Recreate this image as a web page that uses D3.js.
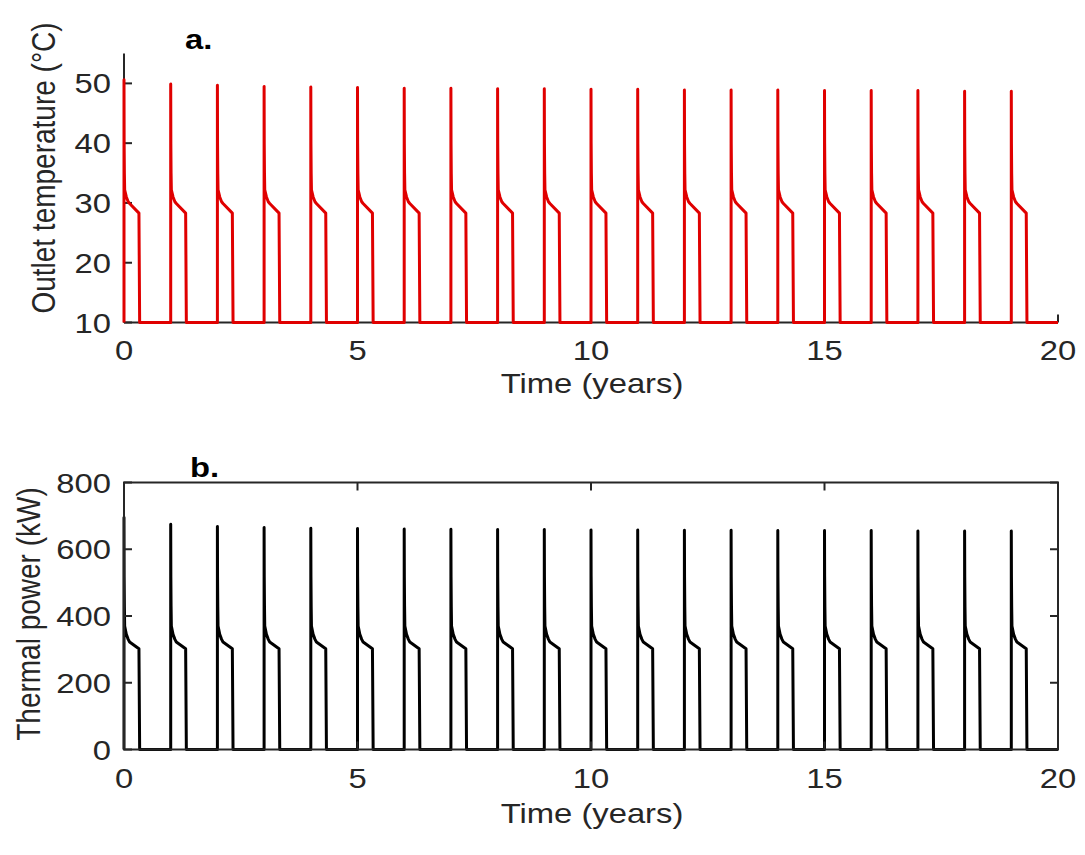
<!DOCTYPE html>
<html><head><meta charset="utf-8">
<script src="https://cdn.jsdelivr.net/npm/d3@7"></script>
<style>body{margin:0;background:#fff}svg{display:block}text{font-family:"Liberation Sans",Arial,sans-serif;fill:#262626}</style>
</head><body><svg id="c" width="1085" height="855"></svg>
<script>
// ---- data ----
const cycleStarts = [0,1,2,3,4,5,6,7,8,9,10,11,12,13,14,15,16,17,18,19]; // years
const peakTemp  = [50.6,49.9,49.7,49.5,49.4,49.3,49.2,49.2,49.1,49.1,49.0,49.0,48.9,48.9,48.9,48.8,48.8,48.8,48.7,48.7]; // °C
const peakPower = [695,675,668,665,663,662,661,660,659,659,658,658,657,657,656,656,656,655,655,655]; // kW
// shape of each heating season after its peak (offset in years, value)
const tailOffsets = [0.003,0.008,0.014,0.05,0.09,0.12,0.32,0.335];
const tailTemp    = [40,35,32.2,31.0,30.2,29.9,28.3,10];
const tailPower   = [520,430,370,345,330,322,302,0];
const baseTemp = 10, basePower = 0, endYear = 20;
const xTicks = [0,5,10,15,20];
const yTicksA = [10,20,30,40,50];
const yTicksB = [0,200,400,600,800];

function series(peaks, tail, base){
  const pts = [];
  cycleStarts.forEach((s,i)=>{
    pts.push([s,base]); pts.push([s,peaks[i]]);
    tailOffsets.forEach((o,j)=>pts.push([s+o, tail[j]]));
  });
  pts.push([endYear, base]);
  return pts;
}

const svg = d3.select("#c");
svg.append("rect").attr("width",1085).attr("height",855).attr("fill","#fff");
const X0 = 124, X1 = 1058;
const x = d3.scaleLinear().domain([0,20]).range([X0,X1]);
const axisCol = "#262626", tickLen = 8, fs = 28, SX = 1.17;

// horizontally stretched text (the reference lettering is wide)
function htext(g, tx, ty, str, size, anchor, bold){
  const t = g.append("text").attr("transform",`translate(${tx},${ty}) scale(${SX},1)`)
    .attr("text-anchor",anchor).attr("font-size",size).text(str);
  if(bold){ t.attr("font-weight","bold").style("fill","#000"); }
  return t;
}
function vtext(g, tx, ty, str, size){
  return g.append("text").attr("transform",`translate(${tx},${ty}) rotate(-90) scale(1,${SX})`)
    .attr("text-anchor","middle").attr("font-size",size).text(str);
}

// ---------- Panel a ----------
const ya = d3.scaleLinear().domain([10,55]).range([322.5,53.5]);
const ga = svg.append("g");
ga.append("line").attr("x1",X0).attr("x2",X0).attr("y1",ya(55)).attr("y2",ya(10)).attr("stroke",axisCol).attr("stroke-width",2);
ga.append("line").attr("x1",X0).attr("x2",X1).attr("y1",ya(10)).attr("y2",ya(10)).attr("stroke",axisCol).attr("stroke-width",2);
yTicksA.forEach(v=>{
  ga.append("line").attr("x1",X0).attr("x2",X0+tickLen).attr("y1",ya(v)).attr("y2",ya(v)).attr("stroke",axisCol).attr("stroke-width",2);
  htext(ga, 111, ya(v)+10, v, fs, "end");
});
xTicks.forEach(v=>{
  ga.append("line").attr("x1",x(v)).attr("x2",x(v)).attr("y1",ya(10)).attr("y2",ya(10)-tickLen).attr("stroke",axisCol).attr("stroke-width",2);
  htext(ga, x(v), 360, v, fs, "middle");
});
const lineA = d3.line().x(d=>x(d[0])).y(d=>ya(d[1]));
ga.append("path").datum(series(peakTemp,tailTemp,baseTemp)).attr("d",lineA)
  .attr("fill","none").attr("stroke","#e00000").attr("stroke-width",3).attr("stroke-linejoin","round");
htext(ga, 592, 393, "Time (years)", 28, "middle");
vtext(ga, 55, 168, "Outlet temperature (°C)", 28);
htext(ga, 185, 49, "a.", 28, "start", true);

// ---------- Panel b ----------
const yb = d3.scaleLinear().domain([0,800]).range([749.5,482.5]);
const gb = svg.append("g");
const lineB = d3.line().x(d=>x(d[0])).y(d=>yb(d[1]));
gb.append("path").datum(series(peakPower,tailPower,basePower)).attr("d",lineB)
  .attr("fill","none").attr("stroke","#000").attr("stroke-width",3).attr("stroke-linejoin","round");
gb.append("rect").attr("x",X0).attr("y",yb(800)).attr("width",X1-X0).attr("height",yb(0)-yb(800))
  .attr("fill","none").attr("stroke",axisCol).attr("stroke-width",2);
yTicksB.forEach(v=>{
  gb.append("line").attr("x1",X0).attr("x2",X0+tickLen).attr("y1",yb(v)).attr("y2",yb(v)).attr("stroke",axisCol).attr("stroke-width",2);
  gb.append("line").attr("x1",X1).attr("x2",X1-tickLen).attr("y1",yb(v)).attr("y2",yb(v)).attr("stroke",axisCol).attr("stroke-width",2);
  htext(gb, 111, yb(v)+10, v, fs, "end");
});
xTicks.forEach(v=>{
  gb.append("line").attr("x1",x(v)).attr("x2",x(v)).attr("y1",yb(0)).attr("y2",yb(0)-tickLen).attr("stroke",axisCol).attr("stroke-width",2);
  gb.append("line").attr("x1",x(v)).attr("x2",x(v)).attr("y1",yb(800)).attr("y2",yb(800)+tickLen).attr("stroke",axisCol).attr("stroke-width",2);
  htext(gb, x(v), 788, v, fs, "middle");
});
htext(gb, 592, 823, "Time (years)", 28, "middle");
vtext(gb, 40, 614, "Thermal power (kW)", 28);
htext(gb, 190, 477, "b.", 28, "start", true);
</script></body></html>
